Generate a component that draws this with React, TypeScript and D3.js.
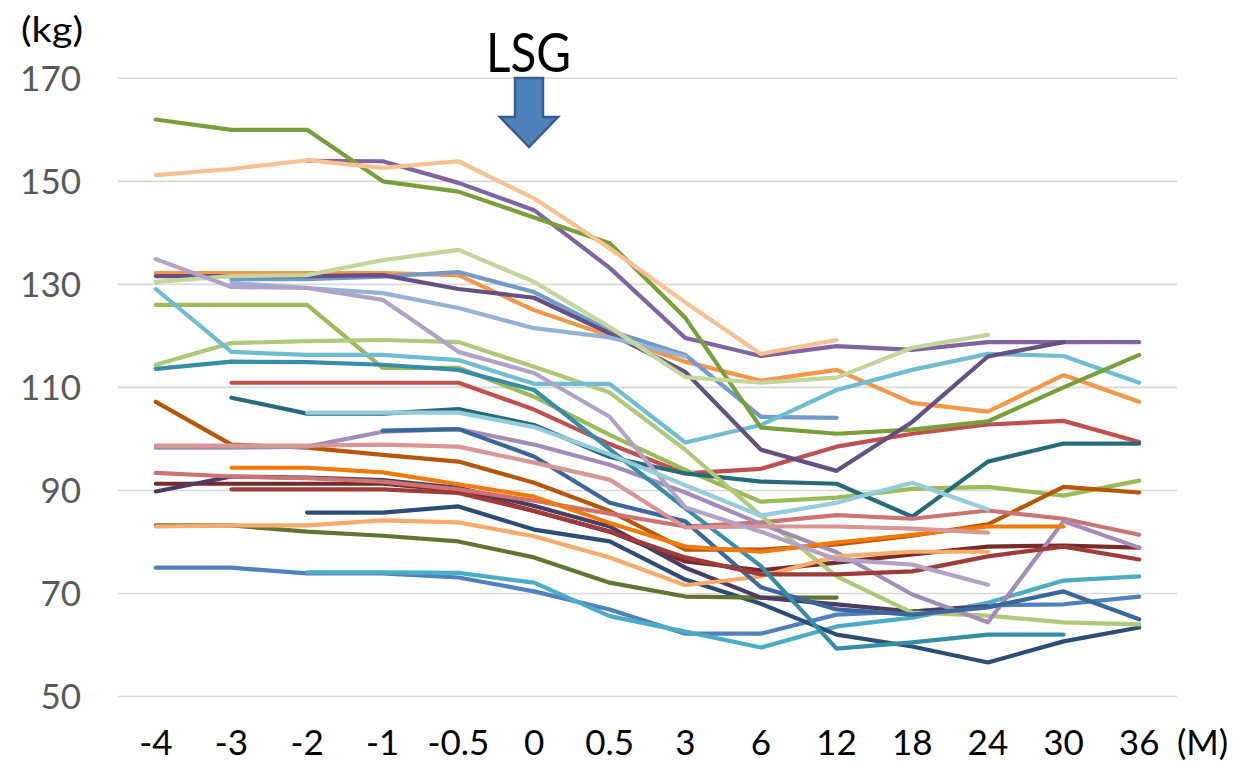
import React, { useRef, useEffect } from "react";
import * as d3 from "d3";

// months relative to surgery
const months = ["-4", "-3", "-2", "-1", "-0.5", "0", "0.5", "3", "6", "12", "18", "24", "30", "36"];
const yTicks = [50, 70, 90, 110, 130, 150, 170];

// body weight (kg) per patient, null = no visit
const p01 = [75, 75, 73.9, 73.9, 73.1, 70.4, 66.9, 62.2, 62.2, 65.9, 66.5, 67.7, 67.9, 69.4];
const p02 = [null, 110.9, 110.9, 110.9, 110.9, 105.7, 99, 93.3, 94.2, 98.5, 101, 102.8, 103.5, 99.4];
const p03 = [126, 126, 126, 113.8, 113.8, 108.2, 100.8, 94, 87.8, 88.6, 90.3, 90.7, 89, 91.9];
const p04 = [null, null, 154, 153.9, 149.7, 144.4, 133.2, 119.6, 116.1, 118, 117.3, 118.8, 118.8, 118.8];
const p05 = [null, null, 74.1, 74.1, 74, 72.1, 65.6, 62.6, 59.5, 63.6, 65.3, 68.2, 72.5, 73.3];
const p06 = [132.2, 132.2, 132.2, 132.2, 131.8, 125, 120, 115, 111.3, 113.4, 107, 105.3, 112.4, 107.2];
const p07 = [null, null, 85.7, 85.7, 86.9, 82.4, 80.1, 72.7, 68, 62, 59.7, 56.6, 60.7, 63.4];
const p08 = [91.3, 91.3, 91.3, 91.3, 90, 86, 82, 76.2, 74.5, 76, 77.6, 79.1, 79.3, 78.9];
const p09 = [83.2, 83.2, 82, 81.2, 80.1, 77, 72.1, 69.4, 69.2, 69.2, null, null, null, null];
const p10 = [89.8, 92.7, 92.5, 92, 90.5, 87, 83, 75, 69.2, 67.9, 66.5, 67.5, null, null];
const p11 = [null, 108, 104.9, 104.9, 105.8, 102.7, 96.5, 93.3, 91.7, 91.3, 84.9, 95.6, 99.1, 99.1];
const p12 = [107.2, 98.9, 98.3, 96.9, 95.6, 91.5, 86, 78.5, 78.5, 79.5, 81.2, 83.4, 90.7, 89.6];
const p13 = [null, 131, 131, 131.5, 132.4, 128.5, 121, 116.3, 104.3, 104.1, null, null, null, null];
const p14 = [93.4, 92.7, 92.4, 91.7, 90.2, 88, 85.5, 83, 83.8, 85.2, 84.5, 86.1, 84.5, 81.4];
const p15 = [114.4, 118.6, 119, 119.2, 118.8, 114, 109, 97.9, 85.1, 73.3, 66.3, 65.7, 64.4, 64];
const p16 = [98.3, 98.3, 98.5, 101.4, 101.9, 98.9, 95, 89.6, 83.5, 78, 69.8, 64.4, 84, 78.9];
const p17 = [129.1, 116.9, 116.3, 116.3, 115.3, 110.7, 110.7, 99.3, 102.7, 109.5, 113.4, 116.5, 116.1, 110.9];
const p18 = [83, 83.2, 83.2, 84.2, 83.8, 81.1, 77, 71.6, 73.3, 77.2, 78.1, 78.1, null, null];
const p19 = [null, null, null, 101.6, 101.9, 96.6, 87.6, 84, 71.2, 66.9, 65.9, 67.3, 70.4, 65];
const p20 = [null, 90.2, 90.2, 90.2, 89.5, 86, 82, 77, 73.7, 73.7, 74.3, 77.2, 79.1, 76.6];
const p21 = [162, 160, 160, 150, 148, 143, 138, 123.5, 102.2, 101, 101.8, 103.4, 110, 116.3];
const p22 = [131.6, 131.6, 131.6, 131.8, 129.1, 127.4, 120.5, 113, 97.9, 93.8, 103.3, 116, 118.8, null];
const p23 = [113.6, 115, 114.9, 114.4, 113.4, 109.5, 98, 86.5, 75.3, 59.3, 60.5, 62, 62, null];
const p24 = [null, 94.4, 94.4, 93.5, 91.2, 88.8, 83.7, 79.1, 78.1, 79.9, 81.4, 83, 83, null];
const p25 = [null, 130.3, 129.3, 128.3, 125.4, 121.5, 119.7, 116, null, null, null, null, null, null];
const p26 = [98.7, 98.7, 98.7, 98.9, 98.5, 95.4, 92.1, 82.8, 83, 83, 82.6, 81.8, null, null];
const p27 = [130.5, 131.6, 131.8, 134.7, 136.7, 130.5, 121.7, 112, 110.9, 111.9, 117.7, 120.2, null, null];
const p28 = [134.9, 129.5, 129.3, 127, 116.9, 112.8, 104.3, 86.7, 82, 76.6, 75.6, 71.7, null, null];
const p29 = [null, null, 105.1, 105.1, 105.1, 102.3, 97, 91, 85.1, 87.6, 91.5, 86.3, null, null];
const p30 = [151.2, 152.4, 154.1, 152.6, 153.9, 146.7, 137, 126.5, 116.5, 119.2, null, null, null, null];

const patients = [p01, p02, p03, p04, p05, p06, p07, p08, p09, p10, p11, p12, p13, p14, p15,
  p16, p17, p18, p19, p20, p21, p22, p23, p24, p25, p26, p27, p28, p29, p30];

// Excel-like series palette
const palette = [
  "#4F81BD", "#C0504D", "#9BBB59", "#8064A2", "#4BACC6", "#F79646",
  "#2C4D75", "#772C2A", "#5F7530", "#4D3B62", "#276A7C", "#B65708",
  "#729ACA", "#CD7371", "#AFC97A", "#A48CBA", "#6FBDD1", "#F9AB6B",
  "#3A679C", "#9F3B38", "#77A03A", "#664F83", "#358EA6", "#F37A0A",
  "#95B3D7", "#D99694", "#C3D69B", "#B3A2C7", "#93CDDD", "#FAC090",
];

const W = 1247;
const H = 762;
const FONT = "Lato, 'Open Sans', sans-serif";

const App = () => {
  const svgRef = useRef<SVGSVGElement>(null);

  useEffect(() => {
    const svg = d3.select(svgRef.current);
    svg.selectAll("*").remove();

    const x = d3.scaleBand().domain(months).range([118, 1177]);
    const y = d3.scaleLinear().domain([50, 170]).range([696.5, 78.3]);
    const cx = (m: string) => (x(m) as number) + x.bandwidth() / 2;

    // gridlines
    svg
      .append("g")
      .selectAll("line")
      .data(yTicks)
      .join("line")
      .attr("x1", 118)
      .attr("x2", 1177)
      .attr("y1", (d) => y(d))
      .attr("y2", (d) => y(d))
      .attr("stroke", "#d9d9d9")
      .attr("stroke-width", 1.6);

    // y labels
    svg
      .append("g")
      .selectAll("text")
      .data(yTicks)
      .join("text")
      .attr("x", 81)
      .attr("y", (d) => y(d) + 12.5)
      .attr("text-anchor", "end")
      .attr("font-family", FONT)
      .attr("font-size", 35)
      .attr("fill", "#595959")
      .text((d) => d);

    // x labels
    svg
      .append("g")
      .selectAll("text")
      .data(months)
      .join("text")
      .attr("x", (d) => cx(d))
      .attr("y", 755)
      .attr("text-anchor", "middle")
      .attr("font-family", FONT)
      .attr("font-size", 35)
      .attr("fill", "#000")
      .text((d) => d);

    svg
      .append("text")
      .attr("x", 1177)
      .attr("y", 755)
      .attr("font-family", FONT)
      .attr("font-size", 35)
      .text("(M)");

    svg
      .append("text")
      .attr("x", 21)
      .attr("y", 42)
      .attr("font-family", FONT)
      .attr("font-size", 35)
      .attr("textLength", 62)
      .attr("lengthAdjust", "spacingAndGlyphs")
      .text("(kg)");

    // patient lines
    const line = d3
      .line<number | null>()
      .defined((d) => d != null)
      .x((_, i) => cx(months[i]))
      .y((d) => y(d as number));

    svg
      .append("g")
      .selectAll("path")
      .data(patients)
      .join("path")
      .attr("d", (d) => line(d))
      .attr("fill", "none")
      .attr("stroke", (_, i) => palette[i])
      .attr("stroke-width", 4.2)
      .attr("stroke-linejoin", "round")
      .attr("stroke-linecap", "round");

    // surgery marker
    svg
      .append("text")
      .attr("x", 486)
      .attr("y", 72)
      .attr("font-family", FONT)
      .attr("font-size", 55)
      .attr("textLength", 85)
      .attr("lengthAdjust", "spacingAndGlyphs")
      .text("LSG");

    const ax = 529;
    svg
      .append("path")
      .attr(
        "d",
        `M${ax - 14},78 L${ax + 14},78 L${ax + 14},117 L${ax + 29},117 L${ax},147 L${ax - 29},117 L${ax - 14},117 Z`
      )
      .attr("fill", "#4F81BD")
      .attr("stroke", "#385D8A")
      .attr("stroke-width", 2.5)
      .attr("stroke-linejoin", "miter");
  }, []);

  return (
    <svg
      ref={svgRef}
      width={W}
      height={H}
      style={{ position: "absolute", left: 0, top: 0, background: "#fff" }}
    ></svg>
  );
};

export default App;
